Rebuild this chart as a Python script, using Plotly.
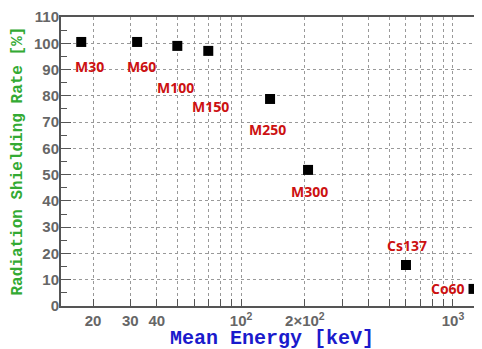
import math
import plotly.graph_objects as go

names = ["M30", "M60", "M100", "M150", "M250", "M300", "Cs137", "Co60"]
energy_kev = [17.6, 32.3, 50, 70, 137, 207, 600, 1250]
shielding_pct = [100.5, 100.5, 99.0, 97.1, 78.8, 51.8, 15.6, 6.5]
# label offsets (px) relative to each point
label_dx = [8, 4, -2, 2, -3, 1, 1, -26]
label_dy = [-25, -25, -42, -56, -31, -22, 20, 0]

x_tickvals = [20, 30, 40, 50, 60, 70, 80, 90, 100, 200, 300, 400, 500, 600, 700, 800, 900, 1000]
x_ticktext = ["20", "30", "40", "", "", "", "", "", "10<sup>2</sup>", "2×10<sup>2</sup>",
              "", "", "", "", "", "", "", "10<sup>3</sup>"]
y_tickvals = list(range(0, 111, 10))

fig = go.Figure()
fig.add_trace(go.Scatter(
    x=energy_kev, y=shielding_pct, mode="markers",
    marker=dict(symbol="square", size=10, color="black", line=dict(width=0)),
    showlegend=False, cliponaxis=False,
))

for n, x, y, dx, dy in zip(names, energy_kev, shielding_pct, label_dx, label_dy):
    fig.add_annotation(x=math.log10(x), y=y, xref="x", yref="y", text=n, showarrow=False,
                       xshift=dx, yshift=dy,
                       font=dict(family="Open Sans", size=14, color="#cc1111", weight="bold"))

tickfont = dict(family="Liberation Sans", size=15, color="#666666", weight="bold")
fig.update_xaxes(
    type="log", range=[1.150, 3.137],
    tickvals=x_tickvals, ticktext=x_ticktext,
    ticks="inside", ticklen=7, tickwidth=1, tickcolor="#555555",
    showgrid=True, gridcolor="#999999", griddash="dot", gridwidth=1,
    showline=True, linecolor="#555555", linewidth=2, mirror=True,
    tickfont=tickfont, zeroline=False,
)
fig.update_yaxes(
    range=[0, 110], tickvals=y_tickvals,
    ticks="inside", ticklen=10, tickwidth=1, tickcolor="#555555",
    minor=dict(dtick=5, ticks="inside", ticklen=6, tickcolor="#555555", showgrid=False),
    showgrid=True, gridcolor="#999999", griddash="dot", gridwidth=1,
    showline=True, linecolor="#555555", linewidth=2,
    tickfont=tickfont, zeroline=False, ticklabelstandoff=-3,
)

fig.add_annotation(xref="paper", yref="paper", x=0.5, y=-0.075, yanchor="top",
                   text="Mean Energy [keV]", showarrow=False, xshift=0, yshift=3,
                   font=dict(family="Liberation Mono", size=20, color="#1a1acc", weight="bold"))
fig.add_annotation(xref="paper", yref="paper", x=0, y=0.5, xanchor="right",
                   text="Radiation Shielding Rate [%]", showarrow=False, textangle=-90,
                   xshift=-33, yshift=0,
                   font=dict(family="Liberation Mono", size=16, color="#33aa33", weight="bold"))

fig.update_layout(
    width=474, height=341,
    margin=dict(l=53, r=0, t=9, b=43),
    paper_bgcolor="white", plot_bgcolor="white",
)
fig.write_html("out.html")
